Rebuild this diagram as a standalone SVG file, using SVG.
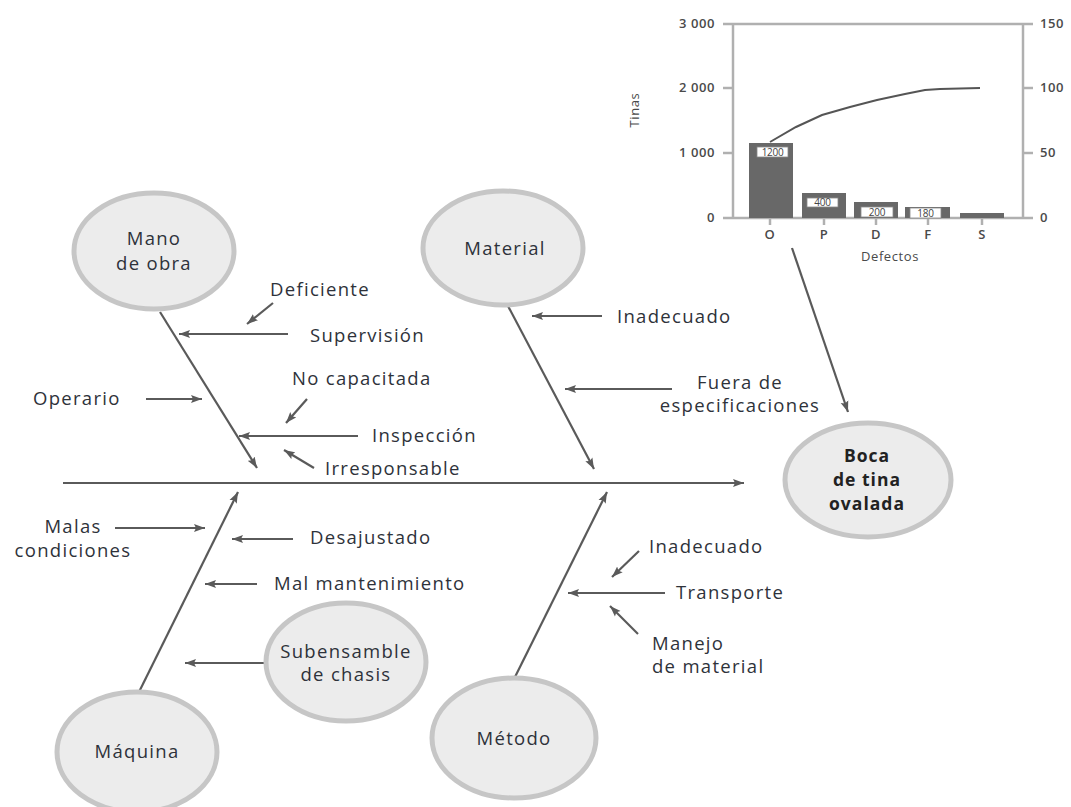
<svg xmlns="http://www.w3.org/2000/svg" width="1071" height="807" viewBox="0 0 1071 807">
<style>
.bg{fill:#ffffff}
.cir{fill:#ececec;stroke:#c6c6c6;stroke-width:5}
.lbl{font-family:"Open Sans","Liberation Sans",sans-serif;font-size:18.5px;letter-spacing:1.3px;fill:#2e323a}
.mid{text-anchor:middle}
.bold{font-weight:700;font-size:17.5px;letter-spacing:1px;fill:#222}
.arr{stroke:#5a5a5a;stroke-width:2.2;fill:none;marker-end:url(#ah)}
.ax{stroke:#b0b0b0;stroke-width:2.5;fill:none}
.bar{fill:#686868}
.tk{font-family:"Open Sans","Liberation Sans",sans-serif;font-size:13px;font-weight:600;letter-spacing:0.6px;fill:#4a4a4a}
.bl{font-family:"Open Sans","Liberation Sans",sans-serif;font-size:10px;fill:#444;letter-spacing:-0.3px}
.box{fill:#fff;stroke:#888;stroke-width:0.8}
</style>
<defs>
<marker id="ah" markerUnits="userSpaceOnUse" markerWidth="12" markerHeight="9" refX="11" refY="4.5" orient="auto">
<path d="M0,0.5 L11,4.5 L0,8.5 L2,4.5 z" fill="#5a5a5a"/>
</marker>
</defs>
<rect class="bg" x="0" y="0" width="1071" height="807"/>

<g id="pareto">
<line class="ax" x1="723" y1="24" x2="1033" y2="24"/>
<line class="ax" x1="723" y1="218" x2="1033" y2="218"/>
<line class="ax" x1="733" y1="24" x2="733" y2="218"/>
<line class="ax" x1="1023" y1="24" x2="1023" y2="218"/>
<line class="ax" x1="723" y1="88" x2="733" y2="88"/>
<line class="ax" x1="723" y1="153" x2="733" y2="153"/>
<line class="ax" x1="1023" y1="88" x2="1033" y2="88"/>
<line class="ax" x1="1023" y1="153" x2="1033" y2="153"/>
<line class="ax" x1="770" y1="218" x2="770" y2="225"/>
<line class="ax" x1="824" y1="218" x2="824" y2="225"/>
<line class="ax" x1="876" y1="218" x2="876" y2="225"/>
<line class="ax" x1="928" y1="218" x2="928" y2="225"/>
<line class="ax" x1="982" y1="218" x2="982" y2="225"/>
<text class="tk" x="715" y="28" text-anchor="end">3 000</text>
<text class="tk" x="715" y="92" text-anchor="end">2 000</text>
<text class="tk" x="715" y="157" text-anchor="end">1 000</text>
<text class="tk" x="715" y="222" text-anchor="end">0</text>
<text class="tk" x="1040" y="28">150</text>
<text class="tk" x="1040" y="92">100</text>
<text class="tk" x="1040" y="157">50</text>
<text class="tk" x="1040" y="222">0</text>
<text class="tk" x="639" y="110" text-anchor="middle" transform="rotate(-90 639 110)" style="font-weight:400">Tinas</text>
<rect class="bar" x="749" y="143" width="44" height="75"/>
<rect class="bar" x="802" y="193" width="44" height="25"/>
<rect class="bar" x="854" y="202" width="44" height="16"/>
<rect class="bar" x="905" y="207" width="45" height="11"/>
<rect class="bar" x="960" y="213" width="44" height="5"/>
<rect class="box" x="757" y="147" width="31" height="10"/>
<text class="bl" x="772.5" y="156" text-anchor="middle">1200</text>
<rect class="box" x="807" y="198" width="31" height="9"/>
<text class="bl" x="822.5" y="206" text-anchor="middle">400</text>
<rect class="box" x="861" y="207" width="32" height="10"/>
<text class="bl" x="877" y="216" text-anchor="middle">200</text>
<rect class="box" x="910" y="208" width="31" height="10"/>
<text class="bl" x="925.5" y="217" text-anchor="middle">180</text>
<polyline points="770,142 796,127 822,115 850,107 877,100 905,94 925,90 940,89 980,88" fill="none" stroke="#555" stroke-width="2"/>
<text class="tk" x="770" y="239" text-anchor="middle">O</text>
<text class="tk" x="824" y="239" text-anchor="middle">P</text>
<text class="tk" x="876" y="239" text-anchor="middle">D</text>
<text class="tk" x="928" y="239" text-anchor="middle">F</text>
<text class="tk" x="982" y="239" text-anchor="middle">S</text>
<text class="tk" x="890" y="261" text-anchor="middle" style="font-weight:400">Defectos</text>
</g>

<g id="connectors">
<line class="arr" x1="63" y1="483" x2="744" y2="483"/>
<line class="arr" x1="160" y1="312" x2="257" y2="468"/>
<line class="arr" x1="508" y1="306" x2="594" y2="469"/>
<line class="arr" x1="139" y1="692" x2="238" y2="492"/>
<line class="arr" x1="515" y1="677" x2="607" y2="492"/>
<line class="arr" x1="792" y1="248" x2="848" y2="412"/>
<line class="arr" x1="273" y1="303" x2="247" y2="324"/>
<line class="arr" x1="288" y1="334" x2="179" y2="334"/>
<line class="arr" x1="307" y1="399" x2="286" y2="423"/>
<line class="arr" x1="146" y1="399" x2="202" y2="399"/>
<line class="arr" x1="358" y1="436" x2="239" y2="436"/>
<line class="arr" x1="314" y1="468" x2="284" y2="450"/>
<line class="arr" x1="602" y1="316" x2="532" y2="316"/>
<line class="arr" x1="672" y1="389" x2="565" y2="389"/>
<line class="arr" x1="115" y1="528" x2="205" y2="528"/>
<line class="arr" x1="293" y1="539" x2="232" y2="539"/>
<line class="arr" x1="257" y1="584" x2="205" y2="584"/>
<line class="arr" x1="265" y1="663" x2="185" y2="663"/>
<line class="arr" x1="639" y1="551" x2="612" y2="577"/>
<line class="arr" x1="665" y1="593" x2="568" y2="593"/>
<line class="arr" x1="638" y1="634" x2="610" y2="606"/>
</g>

<g id="mano-de-obra"><ellipse class="cir" cx="154" cy="251" rx="80" ry="58"/>
<text class="lbl mid" x="154" y="245">Mano</text><text class="lbl mid" x="154" y="270">de obra</text></g>
<g id="material"><ellipse class="cir" cx="503" cy="248" rx="80" ry="57"/>
<text class="lbl mid" x="505" y="255">Material</text></g>
<g id="boca"><ellipse class="cir" cx="868" cy="480" rx="83" ry="57"/>
<text class="lbl mid bold" x="867" y="462">Boca</text><text class="lbl mid bold" x="867" y="486">de tina</text><text class="lbl mid bold" x="867" y="510">ovalada</text></g>
<g id="maquina"><ellipse class="cir" cx="137" cy="752" rx="80" ry="60"/>
<text class="lbl mid" x="137" y="758">Máquina</text></g>
<g id="subensamble"><ellipse class="cir" cx="346" cy="662" rx="80" ry="59"/>
<text class="lbl mid" x="346" y="658">Subensamble</text><text class="lbl mid" x="346" y="681">de chasis</text></g>
<g id="metodo"><ellipse class="cir" cx="514" cy="738" rx="82" ry="60"/>
<text class="lbl mid" x="514" y="745">Método</text></g>

<g id="causas">
<text class="lbl" x="270" y="296">Deficiente</text>
<text class="lbl" x="310" y="342">Supervisión</text>
<text class="lbl" x="292" y="385">No capacitada</text>
<text class="lbl" x="33" y="405">Operario</text>
<text class="lbl" x="372" y="442">Inspección</text>
<text class="lbl" x="325" y="475">Irresponsable</text>
<text class="lbl" x="617" y="323">Inadecuado</text>
<text class="lbl mid" x="740" y="389">Fuera de</text>
<text class="lbl mid" x="740" y="412">especificaciones</text>
<text class="lbl mid" x="73" y="533">Malas</text>
<text class="lbl mid" x="73" y="557">condiciones</text>
<text class="lbl" x="310" y="544">Desajustado</text>
<text class="lbl" x="274" y="590">Mal mantenimiento</text>
<text class="lbl" x="649" y="553">Inadecuado</text>
<text class="lbl" x="676" y="599">Transporte</text>
<text class="lbl" x="652" y="650">Manejo</text>
<text class="lbl" x="652" y="673">de material</text>
</g>
</svg>
